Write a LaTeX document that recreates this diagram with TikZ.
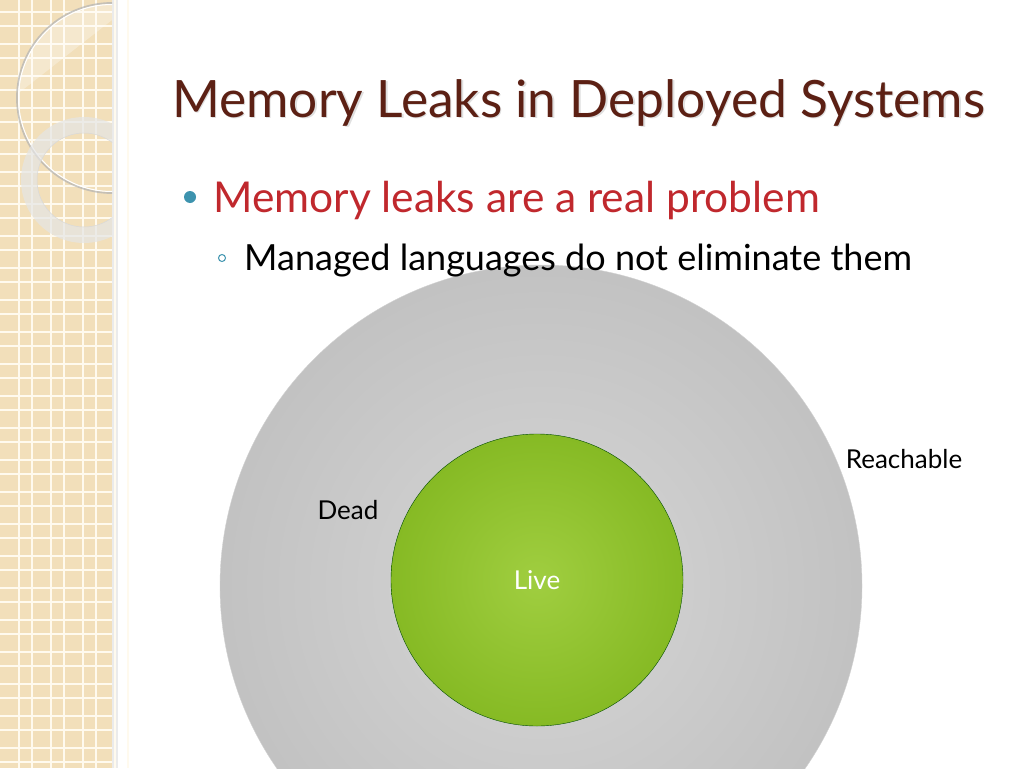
\documentclass[tikz,border=0pt]{standalone}
\usepackage{fontspec}
\setmainfont{Lato}
\usepackage{tikz}
\usetikzlibrary{positioning}
\definecolor{paper}{RGB}{242,223,186}
\definecolor{gridline}{RGB}{255,250,238}
\definecolor{titlered}{RGB}{92,32,20}
\definecolor{bulletred}{RGB}{192,40,45}
\definecolor{teal}{RGB}{61,147,174}
\definecolor{greenin}{RGB}{160,206,64}
\definecolor{greenout}{RGB}{134,186,36}
\tikzset{reachable/.style={circle,inner sep=0pt,minimum size=642pt,draw=black!18,inner color=black!16,outer color=black!24}}
\tikzset{live/.style={circle,inner sep=0pt,minimum size=292pt,draw=green!30!black,inner color=greenin,outer color=greenout,font=\fontsize{26}{30}\selectfont,text=white}}
\tikzset{setlabel/.style={font=\fontsize{26}{30}\selectfont,text=black}}
\tikzset{ring/.style={line width=#1,draw=black!12,opacity=0.7}}

\begin{document}
\begin{tikzpicture}[x=1pt,y=-1pt]
    \useasboundingbox (0,0) rectangle (1024,768);
    % left strip with grid
    \fill[black!8] (112,0) rectangle (118,768);
    \fill[paper] (0,0) rectangle (112,768);
    \foreach \x in {0,32,64,96} {
        \draw[gridline,line width=1.5pt] (\x+19,0) -- (\x+19,768);
        \draw[gridline,line width=1.5pt] (\x+32,0) -- (\x+32,768);
    }
    \foreach \y in {0,32,...,736} {
        \draw[gridline,line width=1.5pt] (0,\y+12) -- (112,\y+12);
        \draw[gridline,line width=1.5pt] (0,\y+26) -- (112,\y+26);
    }
    \begin{scope}
        \clip (0,0) rectangle (112,768);
        \begin{scope}
            \clip (112,98) circle (95);
            \fill[white,opacity=0.3] (0,0) -- (112,0) -- (112,20) -- (20,92) -- (0,92) -- cycle;
        \end{scope}
        \draw[ring=1.8pt,draw=black!30] (112,98) circle (95);
        \draw[white,line width=1pt] (112,98) circle (93.5);
        \draw[ring=16pt,draw=black!10] (84,180) circle (55);
        \draw[black!15,line width=0.5pt] (84,180) circle (47);
    \end{scope}
    % sets
    \node[reachable] (reach) at (541,586) {};
    \node[live] (alive) at (537,580) {Live};
    \node[setlabel] (dead) at (348,510) {Dead};
    \node[setlabel] (reachlabel) at (904,459) {Reachable};
    % title and bullets
    \node[anchor=base west,inner sep=0pt,text=black!12,font=\fontsize{51.5}{60}\selectfont] at (173.5,118.5) {Memory Leaks in Deployed Systems};
    \node[anchor=base west,inner sep=0pt,text=titlered,font=\fontsize{51.5}{60}\selectfont] (title) at (172,117) {Memory Leaks in Deployed Systems};
    \fill[teal] (190,197) circle (6);
    \node[anchor=base west,inner sep=0pt,text=bulletred,font=\fontsize{42.5}{50}\selectfont] (point) at (213,212) {Memory leaks are a real problem};
    \draw[teal,line width=1pt] (222,258) circle (3.5);
    \node[anchor=base west,inner sep=0pt,font=\fontsize{36}{42}\selectfont] (subpoint) at (244,270) {Managed languages do not eliminate them};
\end{tikzpicture}
\end{document}
